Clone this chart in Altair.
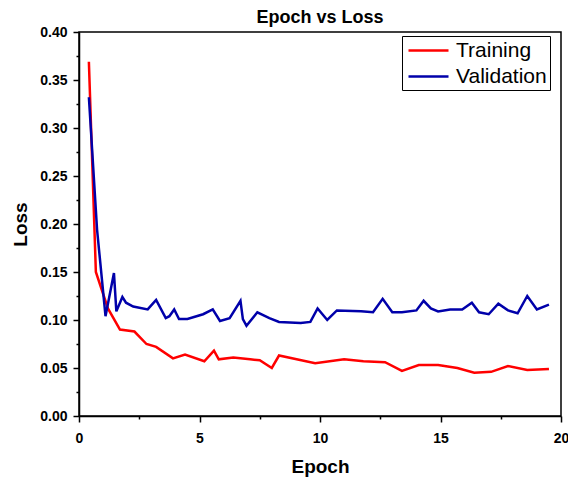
import altair as alt
import pandas as pd

# Training loss (red)
train_epoch = [0.41, 0.7, 1.2, 1.7, 2.3, 2.8, 3.2, 3.9, 4.4, 5.2, 5.6, 5.8, 6.4, 7.1, 7.5,
               8.0, 8.3, 9.8, 11.0, 11.8, 12.7, 13.4, 14.1, 14.9, 15.7, 16.4, 17.1, 17.8,
               18.6, 19.5]
train_loss = [0.369, 0.150, 0.112, 0.090, 0.088, 0.075, 0.072, 0.060, 0.064, 0.057, 0.068,
              0.059, 0.061, 0.059, 0.058, 0.050, 0.063, 0.055, 0.059, 0.057, 0.056, 0.047,
              0.053, 0.053, 0.050, 0.045, 0.046, 0.052, 0.048, 0.049]

# Validation loss (blue)
val_epoch = [0.41, 0.75, 1.1, 1.45, 1.55, 1.8, 1.95, 2.25, 2.85, 3.2, 3.6, 3.75, 3.95, 4.15,
             4.5, 5.15, 5.55, 5.85, 6.25, 6.7, 6.8, 6.95, 7.4, 7.9, 8.3, 9.2, 9.6, 9.9, 10.3,
             10.7, 11.7, 12.2, 12.6, 13.0, 13.4, 14.0, 14.3, 14.6, 14.9, 15.4, 15.9, 16.3,
             16.6, 17.0, 17.4, 17.8, 18.2, 18.6, 19.0, 19.5]
val_loss = [0.332, 0.194, 0.104, 0.149, 0.109, 0.124, 0.118, 0.114, 0.111, 0.121, 0.102,
            0.104, 0.111, 0.101, 0.101, 0.106, 0.111, 0.099, 0.102, 0.120, 0.101, 0.094,
            0.108, 0.102, 0.098, 0.097, 0.098, 0.112, 0.100, 0.110, 0.109, 0.108, 0.122,
            0.108, 0.108, 0.110, 0.120, 0.112, 0.109, 0.111, 0.111, 0.118, 0.108, 0.106,
            0.117, 0.110, 0.107, 0.125, 0.111, 0.116]

series_names = ["Training", "Validation"]
series_colors = ["#FF0000", "#0000AA"]

x_ticks = [0, 2.5, 5, 7.5, 10, 12.5, 15, 17.5, 20]
y_ticks = [0, 0.025, 0.05, 0.075, 0.1, 0.125, 0.15, 0.175, 0.2, 0.225, 0.25, 0.275,
           0.3, 0.325, 0.35, 0.375, 0.4]

df = pd.concat([
    pd.DataFrame({"epoch": train_epoch, "loss": train_loss, "series": "Training", "ord": 0}),
    pd.DataFrame({"epoch": val_epoch, "loss": val_loss, "series": "Validation", "ord": 1}),
], ignore_index=True)

FONT = "Liberation Sans"
y_major = "abs(datum.value*20 - round(datum.value*20)) < 0.001"

chart = alt.Chart(df).mark_line(strokeWidth=2.5).encode(
    x=alt.X("epoch:Q",
            scale=alt.Scale(domain=[0, 20], nice=False, zero=False),
            axis=alt.Axis(values=x_ticks, title="Epoch", grid=False,
                          labelExpr="datum.value % 5 === 0 ? format(datum.value, 'd') : ''",
                          labelOverlap=False, labelFlush=False,
                          tickSize={"condition": {"test": "datum.value % 5 === 0", "value": 6}, "value": 3},
                          labelPadding=9, titlePadding=12)),
    y=alt.Y("loss:Q",
            scale=alt.Scale(domain=[0, 0.4], nice=False),
            axis=alt.Axis(values=y_ticks, title="Loss", grid=False,
                          labelExpr=y_major + " ? format(datum.value, '.2f') : ''",
                          labelOverlap=False, labelFlush=False,
                          tickSize={"condition": {"test": y_major, "value": 6}, "value": 3},
                          labelPadding=6, titlePadding=9)),
    color=alt.Color("series:N",
                    scale=alt.Scale(domain=series_names, range=series_colors),
                    legend=alt.Legend(orient="none", legendX=323, legendY=4, title=None,
                                      strokeColor="black", fillColor="white", padding=3,
                                      symbolType="M-2,0H2", symbolSize=400,
                                      symbolOffset=12, symbolFillColor="transparent",
                                      symbolStrokeWidth=2.5, labelFont=FONT,
                                      labelFontSize=21, labelColor="black",
                                      labelOffset=16, rowPadding=4)),
    order=alt.Order("ord:Q"),
    detail="series:N",
).properties(
    width=482, height=384,
    title=alt.TitleParams("Epoch vs Loss", font=FONT, fontSize=18, fontWeight="bold",
                          anchor="middle", offset=-2, color="black"),
    padding={"left": 79, "top": 32, "right": 7, "bottom": 66},
    autosize=alt.AutoSizeParams(type="none"),
).configure_view(
    stroke="black", strokeWidth=1.5
).configure_axis(
    domainColor="black", domainWidth=1.5, tickColor="black", tickWidth=1.5,
    labelFont=FONT, labelFontSize=14, labelFontWeight="bold", labelColor="black",
    titleFont=FONT, titleFontSize=19, titleFontWeight="bold", titleColor="black",
)

chart.save("out.html", embed_options={"renderer": "svg", "actions": False})
